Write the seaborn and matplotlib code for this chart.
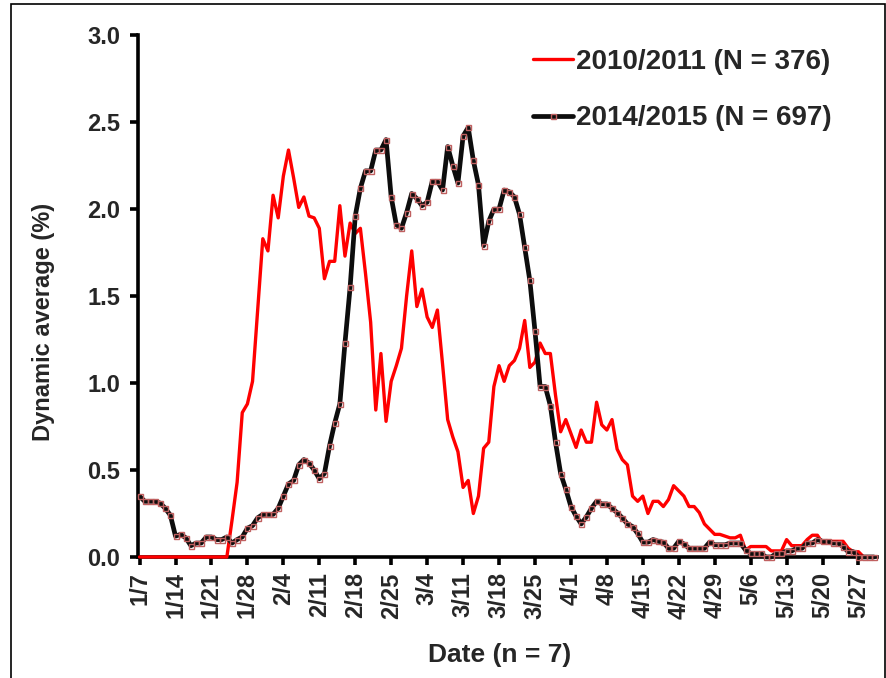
import numpy as np
import pandas as pd
import matplotlib
matplotlib.use("Agg")
import matplotlib.pyplot as plt
import seaborn as sns
from matplotlib.patches import Rectangle

# Data: 7-day dynamic average (%), one value per day from 1/7 to 5/30
season_2010 = [
    0, 0, 0, 0, 0, 0, 0, 0, 0, 0, 0, 0, 0, 0, 0, 0, 0, 0,
    0.21, 0.43, 0.83, 0.88, 1.01, 1.42, 1.83, 1.76, 2.08, 1.95, 2.19, 2.34,
    2.18, 2.01, 2.07, 1.96, 1.95, 1.89, 1.60, 1.70, 1.70, 2.02,
    1.73, 1.92, 1.86, 1.89, 1.63, 1.35, 0.845, 1.17, 0.78, 1.01,
    1.10, 1.20, 1.50, 1.76, 1.44, 1.54, 1.38, 1.32, 1.42, 1.11,
    0.79, 0.69, 0.605, 0.40, 0.44, 0.25, 0.35, 0.625, 0.66, 0.98,
    1.10, 1.01, 1.10, 1.13, 1.20, 1.36, 1.09, 1.12, 1.23, 1.17,
    1.17, 0.93, 0.72, 0.79, 0.71, 0.63, 0.73, 0.66, 0.66, 0.89,
    0.76, 0.73, 0.79, 0.62, 0.56, 0.53, 0.35, 0.32, 0.35, 0.25,
    0.32, 0.32, 0.29, 0.33, 0.41, 0.38, 0.35, 0.29, 0.29, 0.255,
    0.19, 0.16, 0.13, 0.13, 0.12, 0.11, 0.11, 0.125, 0.04, 0.06,
    0.06, 0.06, 0.06, 0.035, 0.035, 0.035, 0.10, 0.065, 0.065, 0.065,
    0.10, 0.125, 0.125, 0.08, 0.09, 0.09, 0.09, 0.09, 0.05, 0.03,
    0.03, 0, 0, 0,
]

season_2014 = [
    0.35, 0.32, 0.32, 0.32, 0.31, 0.28, 0.24, 0.12, 0.13, 0.11,
    0.065, 0.08, 0.08, 0.115, 0.115, 0.10, 0.10, 0.115, 0.08, 0.10,
    0.115, 0.165, 0.18, 0.225, 0.245, 0.245, 0.245, 0.28, 0.35, 0.42,
    0.44, 0.53, 0.56, 0.54, 0.50, 0.45, 0.48, 0.64, 0.77, 0.88,
    1.23, 1.55, 1.96, 2.12, 2.22, 2.22, 2.34, 2.34, 2.40, 2.07,
    1.91, 1.89, 1.98, 2.09, 2.06, 2.02, 2.04, 2.16, 2.16, 2.11,
    2.36, 2.25, 2.15, 2.42, 2.47, 2.28, 2.14, 1.79, 1.93, 2.00,
    2.00, 2.11, 2.10, 2.07, 1.97, 1.78, 1.59, 1.30, 0.98, 0.98,
    0.87, 0.66, 0.48, 0.39, 0.29, 0.235, 0.19, 0.23, 0.28, 0.32,
    0.305, 0.305, 0.28, 0.255, 0.225, 0.19, 0.175, 0.135, 0.085, 0.085,
    0.10, 0.09, 0.085, 0.05, 0.05, 0.09, 0.075, 0.05, 0.05, 0.05,
    0.05, 0.085, 0.07, 0.07, 0.07, 0.08, 0.08, 0.08, 0.04, 0.02,
    0.02, 0.02, 0, 0, 0.02, 0.02, 0.035, 0.035, 0.05, 0.05,
    0.08, 0.08, 0.10, 0.09, 0.09, 0.08, 0.08, 0.06, 0.03, 0.03,
    0, 0, 0, 0,
]

tick_labels = ["1/7", "1/14", "1/21", "1/28", "2/4", "2/11", "2/18", "2/25",
               "3/4", "3/11", "3/18", "3/25", "4/1", "4/8", "4/15", "4/22",
               "4/29", "5/6", "5/13", "5/20", "5/27"]
label_2010 = "2010/2011 (N = 376)"
label_2014 = "2014/2015 (N = 697)"

df = pd.DataFrame({
    "day": np.arange(len(season_2010)),
    "s2010": season_2010,
    "s2014": season_2014,
})

sns.set_style("ticks")
plt.rcParams["font.family"] = ["Liberation Sans", "DejaVu Sans"]
plt.rcParams["font.weight"] = "bold"

fig = plt.figure(figsize=(8.87, 6.78), dpi=100)
ax = fig.add_axes([0.1556, 0.1785, 0.8331, 0.7695])

sns.lineplot(data=df, x="day", y="s2010", ax=ax, color="#ff0000",
             linewidth=2.4, label=label_2010, zorder=3, clip_on=False)
sns.lineplot(data=df, x="day", y="s2014", ax=ax, color="#0d0d0d",
             linewidth=3.4, marker="s", markersize=3.6,
             markerfacecolor="none", markeredgecolor="#c06060",
             markeredgewidth=1.0, label=label_2014, zorder=4, clip_on=False)

ax.set_xlim(-0.3, 143.6)
ax.set_ylim(0, 3.0)
ax.set_yticks(np.arange(0, 3.01, 0.5))
ax.set_yticklabels([f"{v:.1f}" for v in np.arange(0, 3.01, 0.5)],
                   fontsize=17, fontweight="bold")
ax.set_xticks(np.arange(len(tick_labels)) * 7)
ax.set_xticklabels(tick_labels, rotation=90, fontsize=17, fontweight="bold")

sns.despine(ax=ax)
for side in ["left", "bottom"]:
    ax.spines[side].set_linewidth(2.6)
    ax.spines[side].set_color("black")
ax.tick_params(axis="both", direction="out", length=6, width=2.6,
               color="black")
ax.tick_params(axis="y", pad=7)
ax.tick_params(axis="x", pad=5)

ax.set_xlabel("Date (n = 7)", fontsize=19, fontweight="bold")
ax.xaxis.set_label_coords(0.49, -0.165)
ax.set_ylabel("Dynamic average (%)", fontsize=17, fontweight="bold")
ax.yaxis.set_label_coords(-0.112, 0.45)

leg = ax.legend(loc="upper right", bbox_to_anchor=(0.972, 1.022),
                frameon=False, fontsize=20, handlelength=1.45,
                handletextpad=0.1, labelspacing=1.1)
for t in leg.get_texts():
    t.set_fontweight("bold")

# outer frame around the figure
fig.patches.append(Rectangle((11 / 887, -0.02), 874 / 887, 1.014,
                             transform=fig.transFigure, fill=False,
                             edgecolor="black", linewidth=1.2))

fig.savefig("out.png", dpi=100)
